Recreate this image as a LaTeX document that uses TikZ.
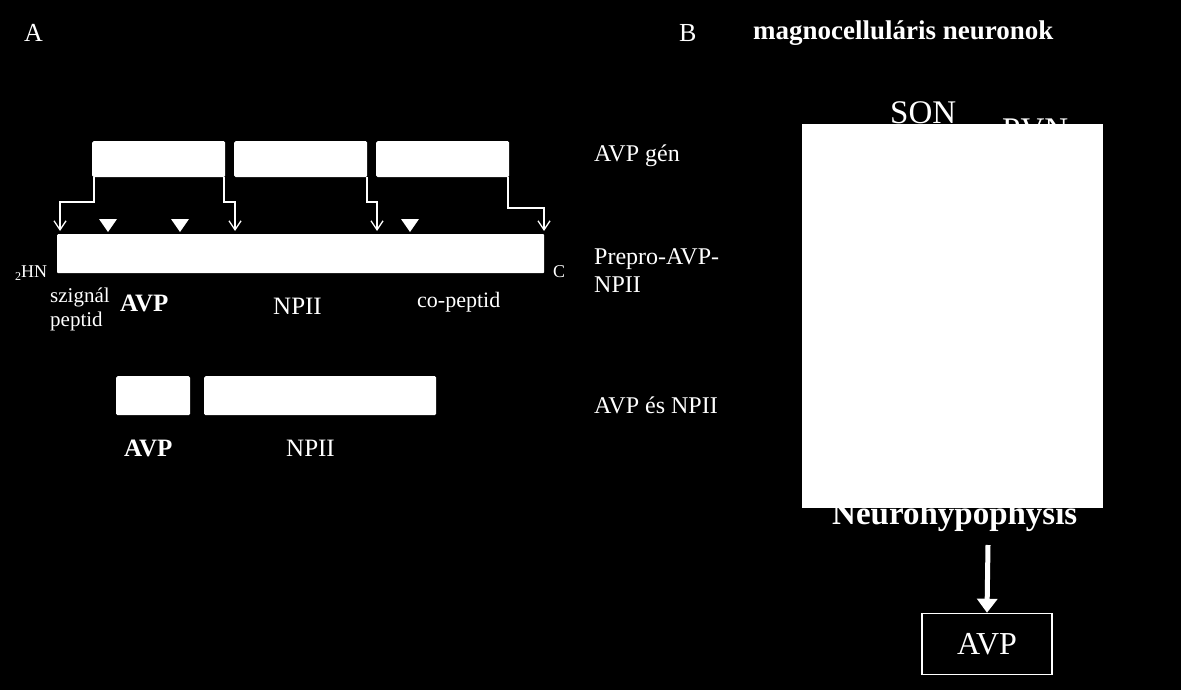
\documentclass[tikz,border=0pt]{standalone}
\usepackage{fontspec}
\setmainfont{Liberation Serif}
\usetikzlibrary{arrows.meta}
\begin{document}
\begin{tikzpicture}[x=1pt,y=-1pt,
  wbox/.style={fill=white,draw=none,rounded corners=1.5pt},
  lbl/.style={text=white,inner sep=0pt,anchor=west},
  cut/.style={draw=white,line width=1.5pt,-{Straight Barb[length=9pt,width=12pt,line width=1.3pt]}},
  tri/.style={fill=white,draw=none}]
\fill[black] (0,0) rectangle (1181,690);
\useasboundingbox (0,0) rectangle (1181,690);
% A
\node[lbl,font=\fontsize{26}{26}\selectfont] (la) at (24,33) {A};
\node[wbox,minimum width=133pt,minimum height=36pt,anchor=north west] (g1) at (92,141) {};
\node[wbox,minimum width=133pt,minimum height=36pt,anchor=north west] (g2) at (234,141) {};
\node[wbox,minimum width=133pt,minimum height=36pt,anchor=north west] (g3) at (376,141) {};
\node[wbox,minimum width=487pt,minimum height=39pt,anchor=north west,rounded corners=1pt] (bar) at (57,234) {};
\coordinate (a1) at (60,231); \coordinate (a2) at (235,231);
\coordinate (a3) at (377,231); \coordinate (a4) at (544,231);
\draw[cut] (94,177) |- (60,202) -- (a1);
\draw[cut] (224,177) |- (235,202) -- (a2);
\draw[cut] (367,177) |- (377,202) -- (a3);
\draw[cut] (508,177) |- (544,208) -- (a4);
\foreach \x in {108,180,410} \fill[tri] (\x-9,219) -- (\x+9,219) -- (\x,232) -- cycle;
\node[lbl,font=\fontsize{18}{18}\selectfont] (hn) at (15,273) {\raisebox{-3pt}{\fontsize{12}{12}\selectfont 2}HN};
\node[lbl,font=\fontsize{18}{18}\selectfont] (c) at (553,272) {C};
\node[lbl,font=\fontsize{21}{24}\selectfont,align=left,anchor=north west] (sz) at (50,288) {szignál\\peptid};
\node[lbl,font=\bfseries\fontsize{25}{25}\selectfont] (avp1) at (120,303) {AVP};
\node[lbl,font=\fontsize{25}{25}\selectfont] (np1) at (273,306) {NPII};
\node[lbl,font=\fontsize{22}{22}\selectfont] (co) at (417,302) {co-peptid};
\node[wbox,minimum width=74pt,minimum height=39pt,anchor=north west] (b1) at (116,376) {};
\node[wbox,minimum width=232pt,minimum height=39pt,anchor=north west] (b2) at (204,376) {};
\node[lbl,font=\bfseries\fontsize{25}{25}\selectfont] (avp2) at (124,448) {AVP};
\node[lbl,font=\fontsize{25}{25}\selectfont] (np2) at (286,448) {NPII};
\node[lbl,font=\fontsize{24}{24}\selectfont] (t1) at (594,156) {AVP gén};
\node[lbl,font=\fontsize{24}{28}\selectfont,align=left] (t2) at (594,271) {Prepro-AVP-\\NPII};
\node[lbl,font=\fontsize{24}{24}\selectfont] (t3) at (594,405) {AVP és NPII};
% B
\node[lbl,font=\fontsize{26}{26}\selectfont] (lb) at (679,33) {B};
\node[lbl,font=\bfseries\fontsize{27}{27}\selectfont] (mg) at (753,33) {magnocelluláris neuronok};
\node[lbl,font=\fontsize{33}{33}\selectfont] (son) at (890,113) {SON};
\node[lbl,font=\fontsize{33}{33}\selectfont] (pvn) at (1002,130) {PVN};
\node[lbl,font=\bfseries\fontsize{33}{33}\selectfont] (nh) at (832,517) {Neurohypophysis};
\fill[white] (802,124) rectangle (1103,508);
\node[draw=white,line width=1.5pt,minimum width=130pt,minimum height=61pt,text=white,font=\fontsize{32}{32}\selectfont] (avpb) at (987,644) {AVP};
\draw[white,line width=5pt,-{Triangle[length=14pt,width=20pt]}] (988,545) -- (avpb.north);
\end{tikzpicture}
\end{document}
